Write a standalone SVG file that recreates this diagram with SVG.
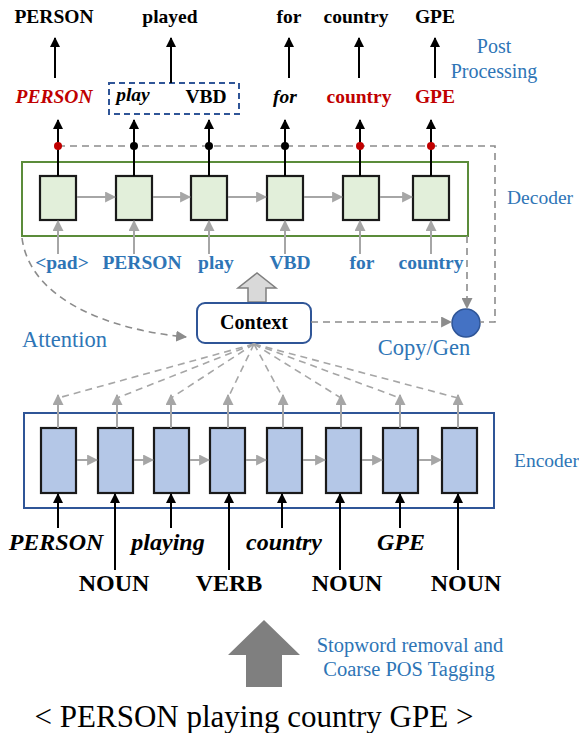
<svg xmlns="http://www.w3.org/2000/svg" width="579" height="733" viewBox="0 0 579 733">
<defs>
<marker id="ab" viewBox="0 0 10 10" refX="9" refY="5" markerWidth="10" markerHeight="11" markerUnits="userSpaceOnUse" orient="auto"><path d="M0,0 L10,5 L0,10 z" fill="#000"/></marker>
<marker id="ag" viewBox="0 0 10 10" refX="9" refY="5" markerWidth="11" markerHeight="11" markerUnits="userSpaceOnUse" orient="auto"><path d="M0,0 L10,5 L0,10 z" fill="#a6a6a6"/></marker>
<marker id="ad" viewBox="0 0 10 10" refX="9" refY="5" markerWidth="11" markerHeight="11" markerUnits="userSpaceOnUse" orient="auto"><path d="M0,0 L10,5 L0,10 z" fill="#8c8c8c"/></marker>
</defs>
<style>
text{font-family:"Liberation Serif","Times New Roman","DejaVu Serif",serif;}
.b{font-weight:bold;}
.i{font-style:italic;}
.k{fill:#000;}
.red{fill:#C00000;}
.blu{fill:#2E75B6;}
.m{text-anchor:middle;}
.dc{fill:#E2EFDA;stroke:#1a1a1a;stroke-width:2.2;}
.ec{fill:#B4C7E7;stroke:#1a1a1a;stroke-width:2.2;}
.blk{stroke:#000;stroke-width:2;fill:none;marker-end:url(#ab);}
.gry{stroke:#a6a6a6;stroke-width:2;fill:none;marker-end:url(#ag);}
.dsh{stroke:#8c8c8c;stroke-width:1.6;stroke-dasharray:7,5;fill:none;}
.dsha{stroke:#8c8c8c;stroke-width:1.6;stroke-dasharray:7,5;fill:none;marker-end:url(#ad);}
.dshl{stroke:#a6a6a6;stroke-width:1.6;stroke-dasharray:7,5;fill:none;}
</style>

<g id="output-words" class="b k m" font-size="19.5">
<text x="54" y="23">PERSON</text>
<text x="170" y="23">played</text>
<text x="289" y="23">for</text>
<text x="356" y="23">country</text>
<text x="435" y="23">GPE</text>
</g>

<g id="post-processing" class="blu m" font-size="20">
<text x="494" y="53">Post</text>
<text x="494" y="78">Processing</text>
</g>

<g id="decoder-outputs" font-size="19.5">
<text x="54" y="103" class="b i red m">PERSON</text>
<rect x="109" y="83" width="130" height="31" fill="none" stroke="#2F5597" stroke-width="2" stroke-dasharray="6,4"/>
<text x="133" y="101" class="b i k m">play</text>
<text x="206" y="103" class="b k m">VBD</text>
<text x="285" y="103" class="b i k m">for</text>
<text x="359" y="103" class="b red m">country</text>
<text x="435" y="103" class="b red m">GPE</text>
</g>

<g id="decoder">
<rect x="22" y="162" width="446" height="74" fill="none" stroke="#5B8C3A" stroke-width="2"/>
<rect class="dc" x="40" y="176" width="36" height="44"/>
<rect class="dc" x="116" y="176" width="36" height="44"/>
<rect class="dc" x="191" y="176" width="36" height="44"/>
<rect class="dc" x="267" y="176" width="36" height="44"/>
<rect class="dc" x="343" y="176" width="36" height="44"/>
<rect class="dc" x="413" y="176" width="36" height="44"/>
<text x="507" y="204" font-size="19.5" class="blu">Decoder</text>
</g>

<g id="decoder-inputs" class="b blu m" font-size="19.5">
<text x="62" y="269">&lt;pad&gt;</text>
<text x="142" y="269">PERSON</text>
<text x="216" y="269">play</text>
<text x="290" y="269">VBD</text>
<text x="362" y="269">for</text>
<text x="431" y="269">country</text>
</g>

<g id="context">
<path d="M248,302 L248,288 L238,288 L257,273 L276,288 L266,288 L266,302 z" fill="#d9d9d9" stroke="#7f7f7f" stroke-width="1.5"/>
<rect x="197" y="303" width="114" height="40" rx="8" fill="#fff" stroke="#2F5597" stroke-width="2"/>
<text x="254" y="329" font-size="20" class="b k m">Context</text>
</g>

<g id="copy-gen">
<circle cx="466" cy="323" r="14" fill="#4472C4" stroke="#2F5597" stroke-width="1.5"/>
<text x="424" y="355" font-size="22.5" class="blu m">Copy/Gen</text>
</g>

<g id="attention-label">
<text x="22" y="347" font-size="22.5" class="blu">Attention</text>
</g>

<g id="encoder">
<rect x="24" y="413" width="470" height="95" fill="none" stroke="#2F5597" stroke-width="2"/>
<rect class="ec" x="41" y="428" width="35" height="65"/>
<rect class="ec" x="98" y="428" width="35" height="65"/>
<rect class="ec" x="154" y="428" width="35" height="65"/>
<rect class="ec" x="210" y="428" width="35" height="65"/>
<rect class="ec" x="267" y="428" width="35" height="65"/>
<rect class="ec" x="326" y="428" width="35" height="65"/>
<rect class="ec" x="383" y="428" width="35" height="65"/>
<rect class="ec" x="442" y="428" width="35" height="65"/>
<text x="514" y="467" font-size="19.5" class="blu">Encoder</text>
</g>

<g id="encoder-inputs" font-size="24">
<text x="56" y="550" class="b i k m">PERSON</text>
<text x="168" y="550" class="b i k m">playing</text>
<text x="284" y="550" class="b i k m">country</text>
<text x="401" y="550" class="b i k m">GPE</text>
<text x="114" y="591" class="b k m">NOUN</text>
<text x="229" y="591" class="b k m">VERB</text>
<text x="347" y="591" class="b k m">NOUN</text>
<text x="466" y="591" class="b k m">NOUN</text>
</g>

<g id="preprocessing">
<path d="M246,687 L246,655 L228,655 L264,620 L300,655 L282,655 L282,687 z" fill="#7f7f7f"/>
<text x="410" y="652" font-size="20.5" class="blu m">Stopword removal and</text>
<text x="409" y="676" font-size="20.5" class="blu m">Coarse POS Tagging</text>
<text x="254" y="727" font-size="31" class="k m">&lt; PERSON playing country GPE &gt;</text>
</g>

<g id="connectors">
<line class="blk" x1="55" y1="78" x2="55" y2="38"/>
<line class="blk" x1="171" y1="83" x2="171" y2="38"/>
<line class="blk" x1="289" y1="78" x2="289" y2="38"/>
<line class="blk" x1="359" y1="78" x2="359" y2="38"/>
<line class="blk" x1="435" y1="78" x2="435" y2="38"/>
<line class="blk" x1="58" y1="176" x2="58" y2="120"/>
<line class="blk" x1="134" y1="176" x2="134" y2="120"/>
<line class="blk" x1="209" y1="176" x2="209" y2="120"/>
<line class="blk" x1="285" y1="176" x2="285" y2="120"/>
<line class="blk" x1="360" y1="176" x2="360" y2="120"/>
<line class="blk" x1="431" y1="176" x2="431" y2="120"/>
<path class="dsh" d="M58,146 L495,146 L495,322 L480,322"/>
<circle cx="58" cy="146" r="4" fill="#C00000"/>
<circle cx="134" cy="146" r="4" fill="#000"/>
<circle cx="209" cy="146" r="4" fill="#000"/>
<circle cx="285" cy="146" r="4" fill="#000"/>
<circle cx="360" cy="146" r="4" fill="#C00000"/>
<circle cx="431" cy="146" r="4" fill="#C00000"/>
<line class="gry" x1="77" y1="197" x2="115" y2="197"/>
<line class="gry" x1="153" y1="197" x2="190" y2="197"/>
<line class="gry" x1="228" y1="197" x2="266" y2="197"/>
<line class="gry" x1="304" y1="197" x2="342" y2="197"/>
<line class="gry" x1="380" y1="197" x2="412" y2="197"/>
<line class="gry" x1="58" y1="254" x2="58" y2="221"/>
<line class="gry" x1="134" y1="254" x2="134" y2="221"/>
<line class="gry" x1="209" y1="254" x2="209" y2="221"/>
<line class="gry" x1="285" y1="254" x2="285" y2="221"/>
<line class="gry" x1="360" y1="254" x2="360" y2="221"/>
<line class="gry" x1="431" y1="254" x2="431" y2="221"/>
<path class="dsha" d="M22,238 C30,300 110,330 186,337"/>
<line class="dsha" x1="311" y1="322" x2="451" y2="322"/>
<line class="dsha" x1="467" y1="236" x2="467" y2="308"/>
<line class="dshl" x1="254" y1="344" x2="58" y2="398"/>
<line class="dshl" x1="254" y1="344" x2="117" y2="398"/>
<line class="dshl" x1="254" y1="344" x2="171" y2="398"/>
<line class="dshl" x1="254" y1="344" x2="228" y2="398"/>
<line class="dshl" x1="254" y1="344" x2="283" y2="398"/>
<line class="dshl" x1="254" y1="344" x2="341" y2="398"/>
<line class="dshl" x1="254" y1="344" x2="400" y2="398"/>
<line class="dshl" x1="254" y1="344" x2="458" y2="398"/>
<line class="gry" x1="58" y1="428" x2="58" y2="395"/>
<line class="gry" x1="117" y1="428" x2="117" y2="395"/>
<line class="gry" x1="171" y1="428" x2="171" y2="395"/>
<line class="gry" x1="228" y1="428" x2="228" y2="395"/>
<line class="gry" x1="283" y1="428" x2="283" y2="395"/>
<line class="gry" x1="341" y1="428" x2="341" y2="395"/>
<line class="gry" x1="400" y1="428" x2="400" y2="395"/>
<line class="gry" x1="458" y1="428" x2="458" y2="395"/>
<line class="gry" x1="77" y1="460" x2="97" y2="460"/>
<line class="gry" x1="134" y1="460" x2="153" y2="460"/>
<line class="gry" x1="190" y1="460" x2="209" y2="460"/>
<line class="gry" x1="246" y1="460" x2="266" y2="460"/>
<line class="gry" x1="303" y1="460" x2="325" y2="460"/>
<line class="gry" x1="362" y1="460" x2="382" y2="460"/>
<line class="gry" x1="419" y1="460" x2="441" y2="460"/>
<line class="blk" x1="58" y1="528" x2="58" y2="494"/>
<line class="blk" x1="115" y1="570" x2="115" y2="494"/>
<line class="blk" x1="171" y1="528" x2="171" y2="494"/>
<line class="blk" x1="229" y1="570" x2="229" y2="494"/>
<line class="blk" x1="282" y1="528" x2="282" y2="494"/>
<line class="blk" x1="340" y1="570" x2="340" y2="494"/>
<line class="blk" x1="400" y1="528" x2="400" y2="494"/>
<line class="blk" x1="458" y1="570" x2="458" y2="494"/>
</g>
</svg>
